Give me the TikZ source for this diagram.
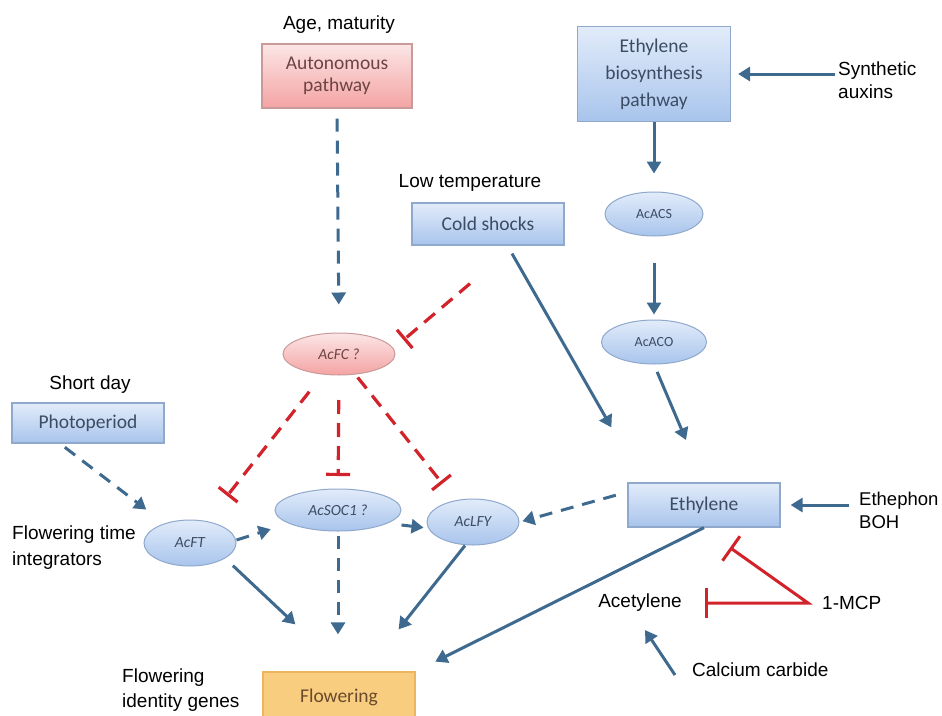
\documentclass[tikz,border=0pt]{standalone}
\usepackage{fontspec}
\setmainfont{Carlito}
\newfontfamily\lab{Liberation Sans}
\usetikzlibrary{arrows.meta,shapes.geometric}
\definecolor{ablue}{HTML}{3F6A8F}
\definecolor{ired}{HTML}{D2232A}
\definecolor{bxtop}{HTML}{E2ECFA}
\definecolor{bxbot}{HTML}{A8C4EC}
\definecolor{bxdraw}{HTML}{8FA8CC}
\definecolor{bxtext}{HTML}{3B4C63}
\definecolor{pktop}{HTML}{FCE6E6}
\definecolor{pkbot}{HTML}{F4A3A3}
\definecolor{pkdraw}{HTML}{C99A9A}
\definecolor{pktext}{HTML}{6E4343}
\definecolor{orfill}{HTML}{F9CD80}
\definecolor{ordraw}{HTML}{EDB55E}
\definecolor{ortext}{HTML}{6A4A2C}
\tikzset{
 bbox/.style={rectangle, draw=bxdraw, line width=1.2pt, top color=bxtop, bottom color=bxbot, text=bxtext, font=\fontsize{19.5}{22}\selectfont, align=center, inner sep=0pt},
 pbox/.style={bbox, draw=pkdraw, top color=pktop, bottom color=pkbot, text=pktext},
 bell/.style={ellipse, draw=bxdraw, line width=1pt, top color=bxtop, bottom color=bxbot, text=bxtext, inner sep=0pt, font=\fontsize{15.5}{17}\selectfont\itshape},
 pell/.style={bell, draw=pkdraw, top color=pktop, bottom color=pkbot, text=pktext},
 lbl/.style={font=\lab\fontsize{19}{24}\selectfont, text=black, inner sep=0pt, align=left},
 arr/.style={draw=ablue, line width=3pt, -{Triangle[width=14pt,length=12pt]}},
 darr/.style={arr, dash pattern=on 13pt off 9pt},
 inh/.style={draw=ired, line width=3.2pt, -{Bar[width=24pt,line width=3.2pt]}, dash pattern=on 14pt off 9pt},
 sinh/.style={draw=ired, line width=3pt, {Bar[width=30pt,line width=3pt]}-{Bar[width=30pt,line width=3pt]}, line join=miter},
}
\begin{document}
\begin{tikzpicture}[x=1pt,y=-1pt]
\useasboundingbox (0,0) rectangle (942,715);
\fill[white] (0,0) rectangle (942,715);
% nodes
\node[lbl] (age) at (339,25) {Age, maturity};
\node[pbox, minimum width=150pt, minimum height=64pt] (auto) at (337,76) {Autonomous\\pathway};
\node[bbox, minimum width=153pt, minimum height=95pt, font=\fontsize{19.5}{27}\selectfont] (ebio) at (654,74) {Ethylene\\biosynthesis\\pathway};
\node[lbl, anchor=west, font=\lab\fontsize{19}{23}\selectfont] (synth) at (838,80) {Synthetic\\auxins};
\node[lbl] (lowt) at (470,183) {Low temperature};
\node[bbox, minimum width=152pt, minimum height=42pt] (cold) at (488,224) {Cold shocks};
\node[bell, font=\fontsize{14}{16}\selectfont, minimum width=98pt, minimum height=44pt] (acacs) at (654,214) {AcACS};
\node[bell, font=\fontsize{14}{16}\selectfont, minimum width=105pt, minimum height=44pt] (acaco) at (654,342) {AcACO};
\node[pell, minimum width=112pt, minimum height=42pt] (acfc) at (339,354) {AcFC ?};
\node[lbl] (sday) at (90,385) {Short day};
\node[bbox, minimum width=152pt, minimum height=40pt] (photo) at (88,423) {Photoperiod};
\node[bell, minimum width=92pt, minimum height=46pt] (acft) at (190,543) {AcFT};
\node[bell, minimum width=126pt, minimum height=42pt] (acsoc) at (338,510) {AcSOC1 ?};
\node[bell, minimum width=92pt, minimum height=46pt] (aclfy) at (473,522) {AcLFY};
\node[bbox, minimum width=152pt, minimum height=44pt] (eth) at (704,505) {Ethylene};
\node[lbl, anchor=west, font=\lab\fontsize{18.5}{23}\selectfont] (ephon) at (859,510) {Ethephon\\BOH};
\node[lbl, anchor=west, font=\lab\fontsize{19}{26}\selectfont] (fti) at (12,548) {Flowering time\\integrators};
\node[lbl] (acet) at (640,603) {Acetylene};
\node[lbl, anchor=west] (mcp) at (822,603) {1-MCP};
\node[lbl, anchor=west] (calc) at (692,670) {Calcium carbide};
\node[rectangle, draw=ordraw, line width=1.2pt, fill=orfill, text=ortext, font=\fontsize{19.5}{22}\selectfont, minimum width=152pt, minimum height=50pt, inner sep=0pt] (flow) at (339,697) {Flowering};
\node[lbl, anchor=west, font=\lab\fontsize{19}{25}\selectfont] (fig) at (122,690) {Flowering\\identity genes};
% connectors
\draw[arr, shorten <=3pt] (synth.west |- ebio.east) -- ([xshift=7pt]ebio.east);
\draw[arr, shorten >=18pt] (ebio.south) -- (acacs.north);
\draw[arr, shorten <=26pt, shorten >=5pt] (acacs.south) -- (acaco.north);
\draw[arr, shorten <=8pt, shorten >=46pt] (acaco.south) -- (eth.north);
\draw[arr] ([xshift=24pt,yshift=-8pt]cold.south) -- ([xshift=-16pt,yshift=55pt]eth.north west);
\draw[darr, shorten <=10pt, shorten >=28pt] (auto.south) -- (acfc.north);
\draw[inh] ([xshift=-18pt,yshift=-38pt]cold.south) -- ([xshift=8pt,yshift=14pt]acfc.east);
\draw[inh, shorten <=48pt, shorten >=60pt] (acfc.center) -- (acft.center);
\draw[inh, shorten <=46pt, shorten >=34pt] (acfc.center) -- (acsoc.center);
\draw[inh, shorten <=30pt, shorten >=49pt] (acfc.center) -- (aclfy.center);
\draw[darr, shorten <=6pt, shorten >=55pt] ([xshift=-28pt]photo.south) -- (acft.center);
\draw[darr, shorten >=4pt] ([yshift=3pt]acft.east) -- ([yshift=-18pt]acsoc.west);
\draw[darr, shorten >=3pt] ([yshift=-15pt]acsoc.east) -- ([yshift=-6pt]aclfy.west);
\draw[darr, shorten <=12pt, shorten >=3pt] ([yshift=13pt]eth.west) -- (aclfy.east);
\draw[arr, shorten <=10pt] (ephon.west |- eth.east) -- ([xshift=10pt]eth.east);
\draw[arr, shorten >=22pt] (eth.south) -- (flow.north east);
\draw[sinh] ([xshift=26pt,yshift=-20pt]eth.south) -- ([xshift=-14pt]mcp.west) -- ([xshift=23pt]acet.east);
\draw[arr] ([xshift=-17pt,yshift=-5pt]calc.west) -- ([xshift=5pt,yshift=-18pt]acet.south);
\draw[arr] ([xshift=10pt,yshift=-6pt]acft.south east) -- ([xshift=33pt,yshift=47pt]flow.north west);
\draw[darr, shorten <=4pt, shorten >=37pt] (acsoc.south) -- (acsoc.south |- flow.north);
\draw[arr] ([xshift=-8pt]aclfy.south) -- ([xshift=-17pt,yshift=42pt]flow.north east);
\end{tikzpicture}
\end{document}
